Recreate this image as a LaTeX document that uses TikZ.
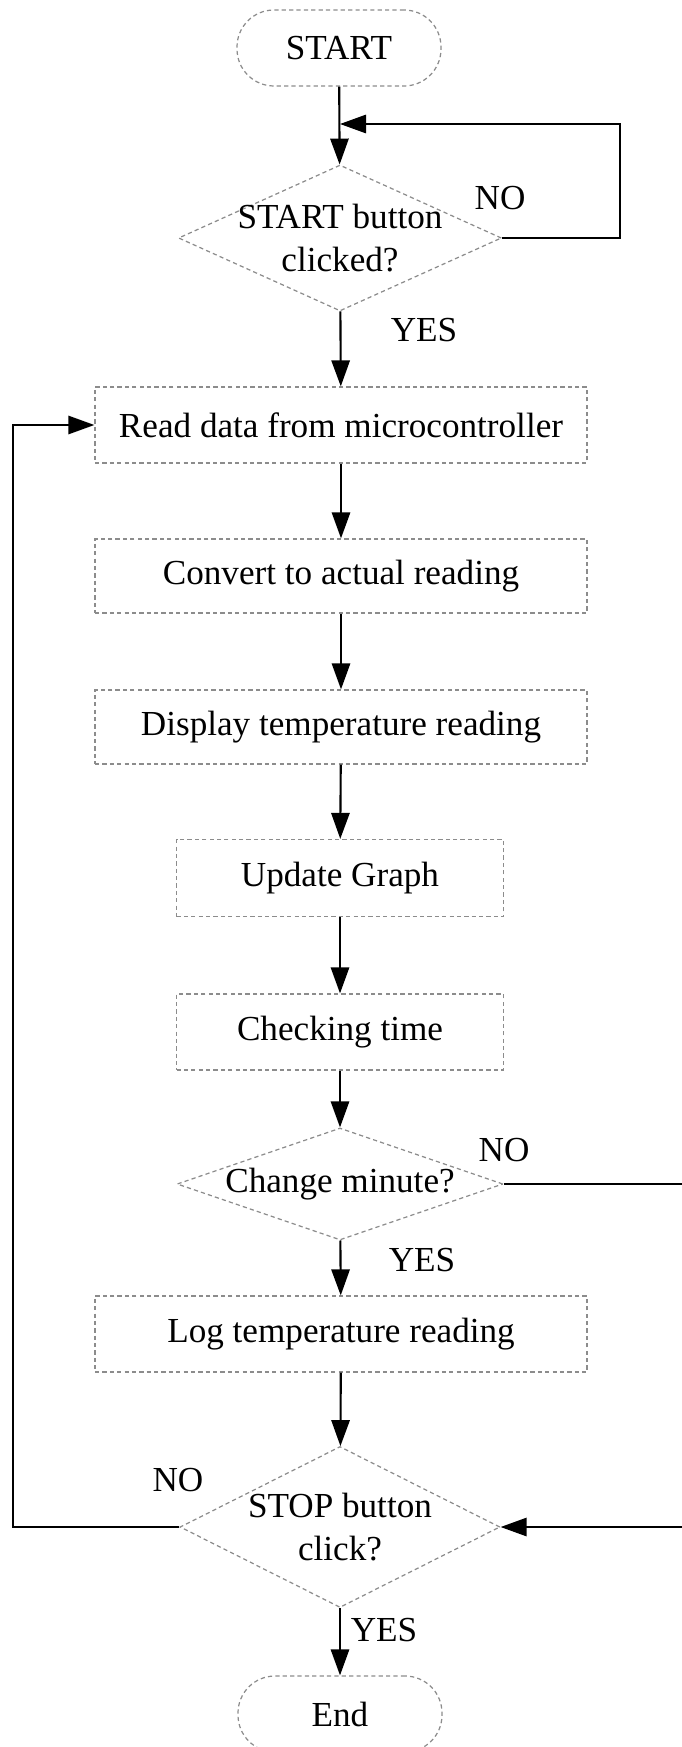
\documentclass[tikz,border=0pt]{standalone}
\usepackage{fontspec}
\setmainfont{Liberation Serif}
\usetikzlibrary{positioning,shapes.geometric,arrows.meta,calc}
\tikzset{
  every node/.style={font=\fontsize{10}{12}\selectfont},
  % --- nodes
  box/.style   = {draw=black!45, dash pattern=on 1.2pt off 0.9pt, line width=0.35pt,
                  align=center, inner sep=2pt},
  term/.style  = {box, rounded corners=3.7mm, minimum width=2.04cm, minimum height=0.76cm},
  proc/.style  = {box, minimum width=4.92cm, minimum height=0.76cm},
  half/.style  = {box, minimum width=3.27cm, minimum height=0.77cm},
  dec/.style   = {box, diamond, inner sep=0pt},
  txt/.style   = {align=center, inner sep=0pt},
  lbl/.style   = {inner sep=1pt},
  % --- edges
  e/.style     = {-{Triangle[length=7.4pt,width=5.2pt]}, line width=0.6pt, draw=black},
}
\begin{document}
\begin{tikzpicture}[x=1cm,y=1cm]
  \useasboundingbox (0,0) rectangle (6.81,-17.47);

  % start and first check
  \node[term] (start) at (3.39,-0.48) {START};
  \node[dec, minimum width=3.23cm, minimum height=1.46cm] (d1) at (3.40,-2.38) {};
  \node[txt] (d1t) at (d1) {START button\\clicked?};

  % the loop body
  \node[proc] (read) at (3.41,-4.25) {Read data from microcontroller};
  \node[proc, minimum height=0.74cm] (conv) at (3.41,-5.76) {Convert to actual reading};
  \node[proc, minimum height=0.74cm] (disp) at (3.41,-7.27) {Display temperature reading};
  \node[half] (upd) at (3.40,-8.78) {Update Graph};
  \node[half, minimum height=0.76cm] (chk) at (3.40,-10.32) {Checking time};
  \node[dec, minimum width=3.26cm, minimum height=1.12cm] (d2) at (3.40,-11.84) {};
  \node[txt] (d2t) at (d2) {Change minute?};
  \node[proc] (log) at (3.41,-13.34) {Log temperature reading};
  \node[dec, minimum width=3.20cm, minimum height=1.61cm] (d3) at (3.40,-15.27) {};
  \node[txt] (d3t) at (d3) {STOP button\\click?};
  \node[term] (end) at (3.40,-17.14) {End};

  % branch labels
  \node[lbl] (no1)  at (5.00,-1.98)  {NO};
  \node[lbl] (yes1) at (4.24,-3.30)  {YES};
  \node[lbl] (no2)  at (5.04,-11.50) {NO};
  \node[lbl] (yes2) at (4.22,-12.60) {YES};
  \node[lbl] (no3)  at (1.78,-14.80) {NO};
  \node[lbl] (yes3) at (3.84,-16.30) {YES};

  % turning points
  \coordinate (m1) at (3.40,-1.24);
  \coordinate (r1) at (6.20,-1.24);
  \coordinate (r2) at (6.86,-11.84);
  \coordinate (l1) at (0.13,-15.27);

  \draw[e] (start) -- (d1);
  \draw[e] (d1.east) -| (r1) -- (m1);
  \draw[e] (d1) -- (read);
  \draw[e] (read) -- (conv);
  \draw[e] (conv) -- (disp);
  \draw[e] (disp) -- (upd);
  \draw[e] (upd) -- (chk);
  \draw[e] (chk) -- (d2);
  \draw[e] (d2) -- (log);
  \draw[e] (d2.east) -- (r2) |- (d3.east);
  \draw[e] (log) -- (d3);
  \draw[e] (d3.west) -- (l1) |- (read.west);
  \draw[e] (d3) -- (end);
\end{tikzpicture}
\end{document}
